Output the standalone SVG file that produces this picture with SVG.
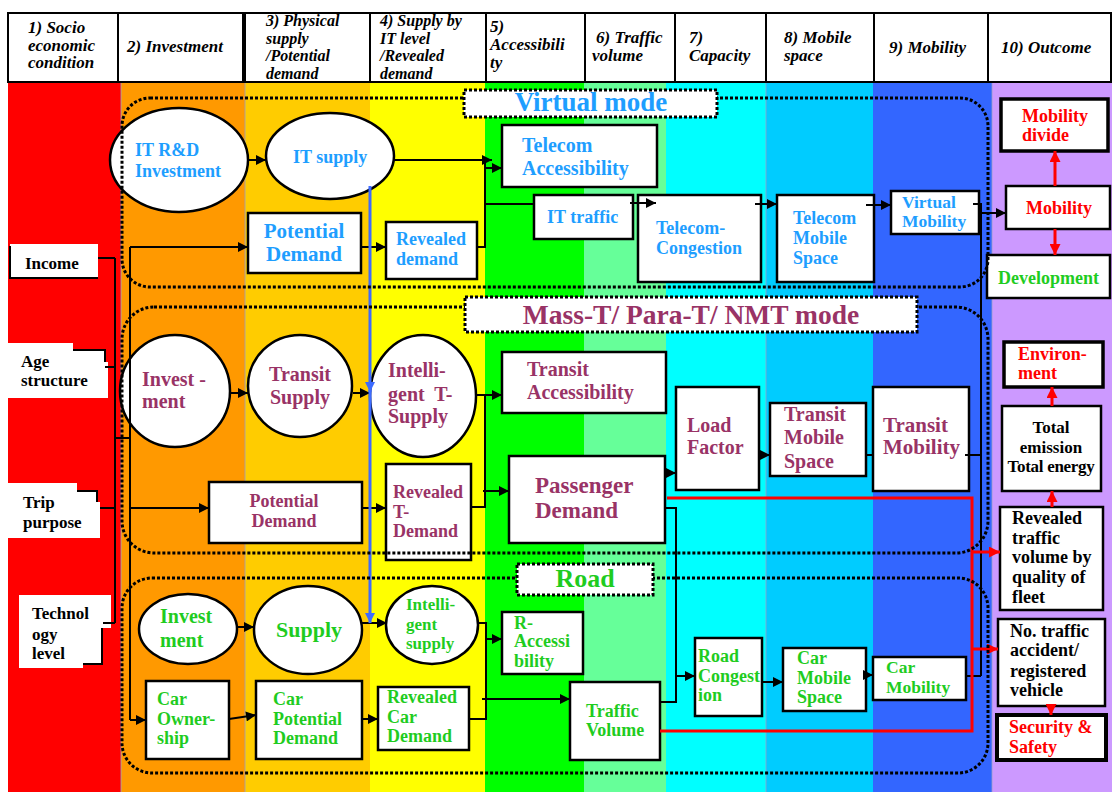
<svg xmlns="http://www.w3.org/2000/svg" width="1112" height="792" viewBox="0 0 1112 792">
<defs>
<style>
.nd{fill:#fff;stroke:#000;stroke-width:2.5}
.t{font-family:"Liberation Serif","Times New Roman",serif;font-weight:bold}
.h{font-family:"Liberation Serif","Times New Roman",serif;font-weight:bold;font-style:italic;font-size:17px;fill:#000}
.h4{font-size:16px}
.hb{fill:#fff;stroke:#000;stroke-width:2}
.v{fill:#1E9EFF}
.m{fill:#993366}
.g{fill:#1FCC1F}
.r{fill:#FF0000}
.k{fill:#000}
.c{fill:none;stroke:#000;stroke-width:2}
.ca{fill:none;stroke:#000;stroke-width:2;marker-end:url(#ah)}
.rl{fill:none;stroke:#FF0000;stroke-width:3}
.ra{fill:none;stroke:#FF0000;stroke-width:3;marker-end:url(#ar)}
.ba{fill:none;stroke:#3D6BFF;stroke-width:3;marker-end:url(#ab)}
.dot{fill:none;stroke:#000;stroke-width:3;stroke-dasharray:3 2}
.lab{fill:#fff;stroke:#000;stroke-width:3;stroke-dasharray:3 2}
.grid{stroke:#9aa0c8;stroke-width:0.8}
</style>
<marker id="ah" viewBox="0 0 10 10" refX="10" refY="5" markerWidth="11" markerHeight="10" markerUnits="userSpaceOnUse" orient="auto"><path d="M0,0 L10,5 L0,10 z" fill="#000"/></marker>
<marker id="ar" viewBox="0 0 10 10" refX="10" refY="5" markerWidth="11" markerHeight="11" markerUnits="userSpaceOnUse" orient="auto"><path d="M0,0 L10,5 L0,10 z" fill="#FF0000"/></marker>
<marker id="ab" viewBox="0 0 10 10" refX="10" refY="5" markerWidth="11" markerHeight="10" markerUnits="userSpaceOnUse" orient="auto"><path d="M0,0 L10,5 L0,10 z" fill="#3D6BFF"/></marker>
</defs>

<rect x="0" y="0" width="1112" height="792" fill="#fff"/>
<g id="columns">
<rect x="8" y="82" width="113" height="710" fill="#FF0000"/>
<rect x="121" y="82" width="124" height="710" fill="#FF9900"/>
<rect x="245" y="82" width="125" height="710" fill="#FFCC00"/>
<rect x="370" y="82" width="115" height="710" fill="#FFFF00"/>
<rect x="485" y="82" width="99" height="710" fill="#00FF00"/>
<rect x="584" y="82" width="82" height="710" fill="#66FF99"/>
<rect x="666" y="82" width="100" height="710" fill="#00FFFF"/>
<rect x="766" y="82" width="107" height="710" fill="#00CCFF"/>
<rect x="873" y="82" width="119" height="710" fill="#3366FF"/>
<rect x="992" y="82" width="120" height="710" fill="#CC99FF"/>
<line class="grid" x1="121" y1="82" x2="121" y2="792"/>
<line class="grid" x1="245" y1="82" x2="245" y2="792"/>
<line class="grid" x1="766" y1="82" x2="766" y2="792"/>
<line class="grid" x1="992" y1="82" x2="992" y2="792"/>
</g>

<g id="header">
<rect class="hb" x="8" y="13" width="110" height="69"/>
<rect class="hb" x="118" y="13" width="125" height="69"/>
<rect class="hb" x="245" y="13" width="125" height="69"/>
<rect class="hb" x="370" y="13" width="116" height="69"/>
<rect class="hb" x="486" y="13" width="99" height="69"/>
<rect class="hb" x="585" y="13" width="90" height="69"/>
<rect class="hb" x="675" y="13" width="91" height="69"/>
<rect class="hb" x="766" y="13" width="108" height="69"/>
<rect class="hb" x="874" y="13" width="114" height="69"/>
<rect class="hb" x="988" y="13" width="123" height="69"/>
<text class="h"><tspan x="28" y="33">1) Socio</tspan><tspan x="28" y="50.5">economic</tspan><tspan x="28" y="68">condition</tspan></text>
<text class="h" font-size="18" x="127" y="52">2) Investment</text>
<text class="h h4"><tspan x="266" y="26">3) Physical</tspan><tspan x="266" y="43.5">supply</tspan><tspan x="266" y="61">/Potential</tspan><tspan x="266" y="78.5">demand</tspan></text>
<text class="h h4"><tspan x="380" y="26">4) Supply by</tspan><tspan x="380" y="43.5">IT level</tspan><tspan x="380" y="61">/Revealed</tspan><tspan x="380" y="78.5">demand</tspan></text>
<text class="h"><tspan x="490" y="32">5)</tspan><tspan x="490" y="50">Accessibili</tspan><tspan x="490" y="68">ty</tspan></text>
<text class="h"><tspan x="596" y="43">6) Traffic</tspan><tspan x="592" y="61">volume</tspan></text>
<text class="h"><tspan x="689" y="43">7)</tspan><tspan x="689" y="61">Capacity</tspan></text>
<text class="h"><tspan x="784" y="43">8) Mobile</tspan><tspan x="784" y="61">space</tspan></text>
<text class="h" font-size="18" x="889" y="53">9) Mobility</text>
<text class="h" font-size="18" x="1001" y="53">10) Outcome</text>
</g>

<g id="income">
<rect x="10" y="244" width="88" height="34" fill="#fff"/>
<path class="c" d="M10,246 V278 H98"/>
<text class="t k" font-size="17" x="25" y="269">Income</text>
</g>
<g id="age">
<polygon points="8,343 73,343 73,350 105,350 105,362 108,362 108,398 8,398" fill="#fff"/>
<path class="c" d="M73,350 H105 V362"/>
<text class="t k" font-size="17"><tspan x="21" y="367">Age</tspan><tspan x="21" y="386">structure</tspan></text>
</g>
<g id="trip">
<polygon points="8,483 77,483 77,491 97,491 97,502 100,502 100,538 8,538" fill="#fff"/>
<path class="c" d="M77,491 H97 V502"/>
<text class="t k" font-size="17"><tspan x="23" y="508">Trip</tspan><tspan x="23" y="528">purpose</tspan></text>
</g>
<g id="tech">
<polygon points="19,595 111,595 111,628 102,628 102,664 83,664 83,668 19,668" fill="#fff"/>
<path class="c" d="M83,664 H102 V628"/>
<text class="t k" font-size="17"><tspan x="32" y="619">Technol</tspan><tspan x="32" y="640">ogy</tspan><tspan x="32" y="659">level</tspan></text>
</g>

<g id="it-rd"><ellipse class="nd" cx="179" cy="160" rx="69" ry="52"/><text class="t v" font-size="18"><tspan x="135" y="156">IT R&amp;D</tspan><tspan x="135" y="177">Investment</tspan></text></g>
<g id="it-supply"><ellipse class="nd" cx="330" cy="156" rx="64" ry="43"/><text class="t v" font-size="18" x="293" y="163">IT supply</text></g>
<g id="potential-demand-v"><rect class="nd" x="248" y="213" width="113" height="60"/><text class="t v" font-size="21" text-anchor="middle"><tspan x="304" y="238">Potential</tspan><tspan x="304" y="261">Demand</tspan></text></g>
<g id="revealed-demand-v"><rect class="nd" x="386" y="222" width="91" height="57"/><text class="t v" font-size="18"><tspan x="396" y="245">Revealed</tspan><tspan x="396" y="265">demand</tspan></text></g>
<g id="telecom-acc"><rect class="nd" x="502" y="125" width="155" height="62"/><text class="t v" font-size="20"><tspan x="522" y="152">Telecom</tspan><tspan x="522" y="175">Accessibility</tspan></text></g>
<g id="it-traffic"><rect class="nd" x="534" y="195" width="99" height="44"/><text class="t v" font-size="18" x="547" y="223">IT traffic</text></g>
<g id="telecom-cong"><rect class="nd" x="638" y="195" width="123" height="87"/><text class="t v" font-size="18"><tspan x="656" y="234">Telecom-</tspan><tspan x="656" y="254">Congestion</tspan></text></g>
<g id="telecom-mobile"><rect class="nd" x="777" y="195" width="97" height="87"/><text class="t v" font-size="18"><tspan x="793" y="224">Telecom</tspan><tspan x="793" y="244">Mobile</tspan><tspan x="793" y="264">Space</tspan></text></g>
<g id="virtual-mobility"><rect class="nd" x="891" y="191" width="88" height="43"/><text class="t v" font-size="17.5"><tspan x="902" y="208">Virtual</tspan><tspan x="902" y="227">Mobility</tspan></text></g>

<g id="mobility-divide"><rect class="nd" style="stroke-width:3.5" x="1001" y="99" width="107" height="52"/><text class="t r" font-size="18"><tspan x="1022" y="122">Mobility</tspan><tspan x="1022" y="141">divide</tspan></text></g>
<g id="mobility"><rect class="nd" x="1006" y="186" width="104" height="43"/><text class="t r" font-size="18" x="1026" y="214">Mobility</text></g>
<g id="development"><rect class="nd" x="987" y="255" width="123" height="43"/><text class="t g" font-size="18" x="998" y="284">Development</text></g>

<g id="invest-t"><ellipse class="nd" cx="175" cy="391" rx="55" ry="56"/><text class="t m" font-size="20"><tspan x="142" y="386">Invest -</tspan><tspan x="142" y="408">ment</tspan></text></g>
<g id="transit-supply"><ellipse class="nd" cx="300" cy="386" rx="52" ry="51"/><text class="t m" font-size="20" text-anchor="middle"><tspan x="300" y="381">Transit</tspan><tspan x="300" y="404">Supply</tspan></text></g>
<g id="intel-t-supply"><ellipse class="nd" cx="423" cy="396" rx="53" ry="61"/><text class="t m" font-size="20"><tspan x="388" y="377">Intelli-</tspan><tspan x="388" y="401" word-spacing="5">gent T-</tspan><tspan x="388" y="423">Supply</tspan></text></g>
<g id="transit-acc"><rect class="nd" x="502" y="352" width="164" height="61"/><text class="t m" font-size="20"><tspan x="527" y="376">Transit</tspan><tspan x="527" y="399">Accessibility</tspan></text></g>
<g id="passenger-demand"><rect class="nd" x="509" y="456" width="156" height="87"/><text class="t m" font-size="23"><tspan x="535" y="493">Passenger</tspan><tspan x="535" y="518">Demand</tspan></text></g>
<g id="potential-demand-t"><rect class="nd" x="209" y="482" width="153" height="61"/><text class="t m" font-size="18" text-anchor="middle"><tspan x="284" y="507">Potential</tspan><tspan x="284" y="527">Demand</tspan></text></g>
<g id="revealed-t-demand"><rect class="nd" x="386" y="464" width="85" height="96"/><text class="t m" font-size="18"><tspan x="393" y="498">Revealed</tspan><tspan x="393" y="518">T-</tspan><tspan x="393" y="537">Demand</tspan></text></g>
<g id="load-factor"><rect class="nd" x="676" y="387" width="83" height="103"/><text class="t m" font-size="20"><tspan x="687" y="432">Load</tspan><tspan x="687" y="454">Factor</tspan></text></g>
<g id="transit-mobile"><rect class="nd" x="770" y="403" width="96" height="73"/><text class="t m" font-size="20"><tspan x="784" y="421">Transit</tspan><tspan x="784" y="444">Mobile</tspan><tspan x="784" y="468">Space</tspan></text></g>
<g id="transit-mobility"><rect class="nd" x="873" y="387" width="96" height="104"/><text class="t m" font-size="21"><tspan x="883" y="432">Transit</tspan><tspan x="883" y="454">Mobility</tspan></text></g>

<g id="environment"><rect class="nd" style="stroke-width:3.5" x="1004" y="342" width="99" height="45"/><text class="t r" font-size="18"><tspan x="1018" y="360">Environ-</tspan><tspan x="1018" y="379">ment</tspan></text></g>
<g id="total-emission"><rect class="nd" x="1002" y="406" width="99" height="85"/><text class="t k" font-size="17" text-anchor="middle"><tspan x="1051" y="433">Total</tspan><tspan x="1051" y="453">emission</tspan><tspan x="1051" y="472" letter-spacing="-0.3">Total energy</tspan></text></g>
<g id="revealed-traffic"><rect class="nd" x="1000" y="507" width="103" height="103"/><text class="t k" font-size="18"><tspan x="1012" y="524">Revealed</tspan><tspan x="1012" y="544">traffic</tspan><tspan x="1012" y="563">volume by</tspan><tspan x="1012" y="583">quality of</tspan><tspan x="1012" y="603">fleet</tspan></text></g>
<g id="no-traffic"><rect class="nd" x="998" y="619" width="107" height="87"/><text class="t k" font-size="18"><tspan x="1010" y="637">No. traffic</tspan><tspan x="1010" y="656">accident/</tspan><tspan x="1010" y="677">registered</tspan><tspan x="1010" y="696">vehicle</tspan></text></g>
<g id="security"><rect class="nd" style="stroke-width:4" x="997" y="715" width="109" height="45"/><text class="t r" font-size="18"><tspan x="1009" y="733">Security &amp;</tspan><tspan x="1009" y="753">Safety</tspan></text></g>

<g id="invest-r"><ellipse class="nd" cx="188" cy="629" rx="49" ry="35"/><text class="t g" font-size="20"><tspan x="160" y="623">Invest</tspan><tspan x="160" y="647">ment</tspan></text></g>
<g id="supply-r"><ellipse class="nd" cx="308" cy="630" rx="54" ry="44"/><text class="t g" font-size="22" text-anchor="middle" x="309" y="637">Supply</text></g>
<g id="intel-supply"><ellipse class="nd" cx="432" cy="625" rx="46" ry="39"/><text class="t g" font-size="17"><tspan x="406" y="610">Intelli-</tspan><tspan x="406" y="630">gent</tspan><tspan x="406" y="649">supply</tspan></text></g>
<g id="r-acc"><rect class="nd" x="502" y="612" width="81" height="62"/><text class="t g" font-size="18"><tspan x="514" y="629">R-</tspan><tspan x="514" y="647">Accessi</tspan><tspan x="514" y="667">bility</tspan></text></g>
<g id="revealed-car"><rect class="nd" x="378" y="687" width="91" height="63"/><text class="t g" font-size="18"><tspan x="387" y="703">Revealed</tspan><tspan x="387" y="723">Car</tspan><tspan x="387" y="742">Demand</tspan></text></g>
<g id="traffic-volume"><rect class="nd" x="570" y="682" width="90" height="78"/><text class="t g" font-size="18"><tspan x="586" y="717">Traffic</tspan><tspan x="586" y="736">Volume</tspan></text></g>
<g id="road-cong"><rect class="nd" x="695" y="638" width="67" height="78"/><text class="t g" font-size="18"><tspan x="698" y="662">Road</tspan><tspan x="698" y="682">Congest</tspan><tspan x="698" y="701">ion</tspan></text></g>
<g id="car-mobile"><rect class="nd" x="783" y="648" width="83" height="63"/><text class="t g" font-size="18"><tspan x="797" y="664">Car</tspan><tspan x="797" y="684">Mobile</tspan><tspan x="797" y="703">Space</tspan></text></g>
<g id="car-mobility"><rect class="nd" x="873" y="657" width="93" height="43"/><text class="t g" font-size="17.5"><tspan x="886" y="673">Car</tspan><tspan x="886" y="693">Mobility</tspan></text></g>
<g id="car-own"><rect class="nd" x="146" y="681" width="83" height="78"/><text class="t g" font-size="18"><tspan x="157" y="705">Car</tspan><tspan x="157" y="725">Owner-</tspan><tspan x="157" y="744">ship</tspan></text></g>
<g id="car-potential"><rect class="nd" x="256" y="681" width="106" height="78"/><text class="t g" font-size="18"><tspan x="273" y="705">Car</tspan><tspan x="273" y="725">Potential</tspan><tspan x="273" y="744">Demand</tspan></text></g>

<g id="connectors">
<path class="c" d="M98,258 H115 M115,258 V623 M105,367 H115 M100,508 H115 M103,623 H115 M115,438 H130 M130,247 V720"/>
<path class="ca" d="M130,247 H248"/>
<path class="ca" d="M130,508 H209"/>
<path class="ca" d="M130,720 H146"/>
<path class="ca" d="M248,160 H266"/>
<path class="ca" d="M394,160 H492"/>
<path class="ca" d="M361,247 H386"/>
<path class="c" d="M477,247 H485 V160 M485,204 H534"/>
<path class="ca" d="M485,168 H502"/>
<path class="ca" d="M630,203 H656"/>
<path class="ca" d="M755,204 H777"/>
<path class="ca" d="M866,205 H891"/>
<path class="c" d="M973,204 H981 V676 M965,455 H981 M966,676 H981"/>
<path class="ca" d="M981,213 H1006"/>
<path class="ca" d="M230,393 H248"/>
<path class="ca" d="M353,393 H370"/>
<path class="c" d="M476,395 H485 V507 H471"/>
<path class="ca" d="M485,395 H502"/>
<path class="ca" d="M362,508 H386"/>
<path class="ca" d="M483,491 H509"/>
<path class="ca" d="M665,473 H676"/>
<path class="ca" d="M759,455 H770"/>
<path class="c" d="M866,455 H873"/>
<path class="c" d="M665,508 H676 V702 H660"/>
<path class="ca" d="M676,676 H695"/>
<path class="ca" d="M237,627 H254"/>
<path class="ca" d="M361,623 H387"/>
<path class="c" d="M477,623 H486 V719 H469"/>
<path class="ca" d="M486,639 H502"/>
<path class="ca" d="M482,699 H570"/>
<path class="ca" d="M229,719 L256,715"/>
<path class="ca" d="M362,719 H378"/>
<path class="ca" d="M762,682 H783"/>
<path class="ca" d="M866,675 H873"/>
<path class="ba" d="M370,186 V392"/>
<path class="ba" d="M370,390 V623"/>
<path class="rl" d="M667,498 H972 V731 H660"/>
<path class="ra" d="M972,552 H1000"/>
<path class="ra" d="M972,649 H998"/>
<path class="ra" d="M1055,186 V151"/>
<path class="ra" d="M1055,229 V255"/>
<path class="ra" d="M1052,406 V387"/>
<path class="ra" d="M1052,507 V491"/>
<path class="ra" d="M1051,705 V715"/>
</g>

<g id="mode-virtual">
<rect class="dot" x="122" y="98" width="866" height="189" rx="28"/>
<rect class="lab" x="464" y="90" width="253" height="27"/>
<text class="t v" font-size="27" text-anchor="middle" x="591" y="111">Virtual mode</text>
</g>
<g id="mode-mass">
<rect class="dot" x="122" y="307" width="866" height="246" rx="32"/>
<rect class="lab" x="465" y="297" width="452" height="35"/>
<text class="t m" font-size="27.5" text-anchor="middle" x="691" y="324">Mass-T/ Para-T/ NMT mode</text>
</g>
<g id="mode-road">
<rect class="dot" x="122" y="578" width="866" height="195" rx="30"/>
<rect class="lab" x="517" y="564" width="136" height="31"/>
<text class="t g" font-size="26" text-anchor="middle" x="585" y="587">Road</text>
</g>
</svg>
